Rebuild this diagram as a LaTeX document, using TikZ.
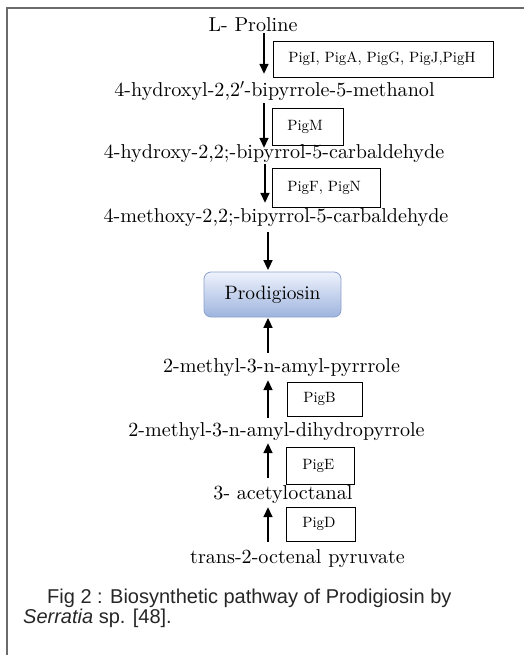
\documentclass[tikz,border=0pt]{standalone}
\usepackage{fontspec}
\newfontfamily\capfont{Liberation Sans}
\newfontfamily\chemfont{lmroman10-regular}[Extension=.otf]
\usetikzlibrary{arrows.meta}
\definecolor{framegray}{gray}{0.42}
\definecolor{prodtop}{RGB}{238,242,252}
\definecolor{prodbot}{RGB}{158,180,222}
\definecolor{prodedge}{RGB}{140,160,205}
\tikzset{
  chem/.style={inner sep=0pt, anchor=base, font=\chemfont\fontsize{20.1}{22}\selectfont, text height=13.5pt, text depth=4.5pt},
  enz/.style={draw=black, line width=0.8pt, anchor=north west, inner xsep=15pt, inner ysep=0pt, align=left, font=\chemfont\fontsize{14.9}{16}\selectfont, text height=10pt, text depth=3pt},
  arr/.style={line width=1.6pt, -{Triangle[length=10pt,width=9pt]}},
  prod/.style={rounded corners=7pt, top color=prodtop, bottom color=prodbot, draw=prodedge, line width=0.8pt, minimum width=137pt, minimum height=45pt, inner sep=0pt, font=\chemfont\fontsize{19.4}{22}\selectfont}
}
\begin{document}
\begin{tikzpicture}[x=1pt,y=-1pt]
\useasboundingbox (0,0) rectangle (524,655);
% frame
\draw[framegray, line width=2pt] (7,655) -- (7,8) -- (524,8);

% chemical names
\node[chem] (n0) at (253,32) {L- Proline};
\node[chem] (n1) at (274.5,97) {4-hydroxyl-2,2$'$-bipyrrole-5-methanol};
\node[chem] (n2) at (274,159) {4-hydroxy-2,2;-bipyrrol-5-carbaldehyde};
\node[chem] (n3) at (276,222) {4-methoxy-2,2;-bipyrrol-5-carbaldehyde};
\node[prod] (pd) at (272.5,294.5) {Prodigiosin};
\node[chem] (n5) at (281.5,372) {2-methyl-3-n-amyl-pyrrrole};
\node[chem] (n6) at (276.5,436) {2-methyl-3-n-amyl-dihydropyrrole};
\node[chem] (n7) at (283,499) {3- acetyloctanal};
\node[chem] (n8) at (297.5,563) {trans-2-octenal pyruvate};

% enzyme boxes
\node[enz, text width=190pt, minimum height=36pt] (e1) at (273,41) {PigI, PigA, PigG, PigJ,PigH};
\node[enz, text width=41pt, minimum height=37pt] (e2) at (272,108) {PigM};
\node[enz, text width=78pt, minimum height=39pt] (e3) at (272,168) {PigF, PigN};
\node[enz, inner xsep=16pt, text width=43pt, minimum height=34pt] (e4) at (287,382) {PigB};
\node[enz, inner xsep=16pt, text width=36pt, minimum height=37pt] (e5) at (286,447) {PigE};
\node[enz, inner xsep=16pt, text width=37pt, minimum height=34pt] (e6) at (286,507) {PigD};

% arrows down
\draw[arr, shorten <=-3.5pt, shorten >=9.5pt] (n0.south -| 264,0) -- (n1.north -| 264,0);
\draw[arr, shorten <=1.5pt, shorten >=-2.5pt] (n1.south -| 264,0) -- (n2.north -| 264,0);
\draw[arr, shorten <=0pt, shorten >=5.5pt] (n2.south -| 265,0) -- (n3.north -| 265,0);
\draw[arr, shorten <=5.5pt, shorten >=1.5pt] (n3.south -| 268,0) -- (pd.north -| 268,0);
% arrows up
\draw[arr, shorten <=5.5pt, shorten >=0.5pt] (n5.north -| 268,0) -- (pd.south -| 268,0);
\draw[arr, shorten <=4.5pt, shorten >=3.5pt] (n6.north -| 268,0) -- (n5.south -| 268,0);
\draw[arr, shorten <=7.5pt, shorten >=2.5pt] (n7.north -| 268,0) -- (n6.south -| 268,0);
\draw[arr, shorten <=7.5pt, shorten >=3.5pt] (n8.north -| 268,0) -- (n7.south -| 268,0);

% caption
\node[anchor=base west, inner sep=0pt, align=left, font=\capfont\fontsize{20}{17.5}\selectfont, text=black!85] (cap) at (23,623)
  {\hspace*{24pt}Fig 2 : Biosynthetic pathway of Prodigiosin by\\\textit{Serratia} sp. [48].};
\end{tikzpicture}
\end{document}
